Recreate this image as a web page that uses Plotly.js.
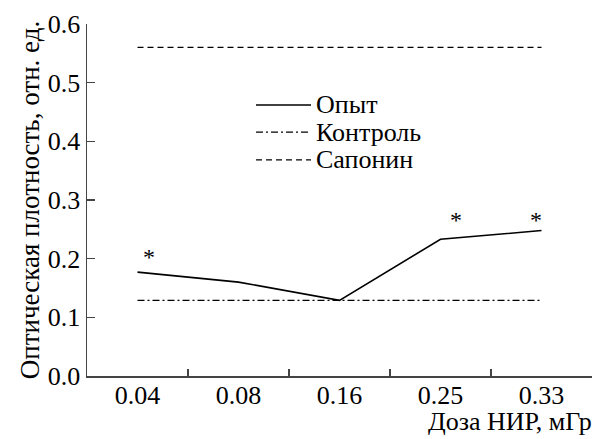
<!DOCTYPE html>
<html>
<head>
<meta charset="utf-8">
<script src="https://cdn.plot.ly/plotly-3.0.1.min.js"></script>
<style>html,body{margin:0;padding:0;background:#fff;}#chart{width:594px;height:439px;}</style>
</head>
<body>
<div id="chart"></div>
<script>
// Data
var doses = ["0.04", "0.08", "0.16", "0.25", "0.33"];
var opyt = [0.177, 0.160, 0.129, 0.233, 0.248];
var kontrol = [0.129, 0.129, 0.129, 0.129, 0.129];
var saponin = [0.560, 0.560, 0.560, 0.560, 0.560];
var seriesNames = ["Опыт", "Контроль", "Сапонин"];
var starDoses = ["0.04", "0.25", "0.33"];
var starValues = [0.206, 0.269, 0.269];

var FONT = "Liberation Serif";
var FS = 26;
var dashes = ["solid", "7px,3px,2px,3px", "6px,4px"];
var widths = [1.6, 1.2, 1.2];
var seriesY = [opyt, kontrol, saponin];

var traces = seriesY.map(function (ys, i) {
  return {
    x: doses, y: ys, name: seriesNames[i], type: "scatter", mode: "lines",
    line: {color: "#000", width: widths[i], dash: dashes[i]},
    showlegend: false, hoverinfo: "skip"
  };
});

var shapes = [];
var annotations = [];
var legY = [0.770, 0.693, 0.614];
seriesNames.forEach(function (n, i) {
  shapes.push({type: "line", xref: "paper", yref: "paper",
    x0: 0.3347, x1: 0.4436, y0: legY[i], y1: legY[i],
    line: {color: "#000", width: widths[i], dash: dashes[i]}});
  annotations.push({xref: "paper", yref: "paper", x: 0.45, y: legY[i],
    xanchor: "left", yanchor: "middle", text: n, showarrow: false,
    font: {family: FONT, size: FS, color: "#000"}});
});
var starShift = [11, 15, -6];
starDoses.forEach(function (d, i) {
  annotations.push({xref: "x", yref: "y", x: doses.indexOf(d), y: starValues[i], text: "*",
    showarrow: false, xshift: starShift[i], yshift: -2,
    font: {family: FONT, size: 24, color: "#000"}});
});
annotations.push({xref: "paper", yref: "paper", x: 1, y: 0, xanchor: "right",
  yanchor: "middle", yshift: -45, xshift: 2, text: "Доза НИР, мГр", showarrow: false,
  font: {family: FONT, size: FS, color: "#000"}});

var layout = {
  width: 594, height: 439,
  margin: {l: 87, r: 2, t: 24, b: 63},
  paper_bgcolor: "#fff", plot_bgcolor: "#fff",
  font: {family: FONT, size: FS, color: "#000"},
  xaxis: {
    type: "category", range: [-0.5, 4.5], tickson: "boundaries",
    ticks: "inside", ticklen: 7, tickwidth: 1.2, tickcolor: "#444",
    showline: true, linecolor: "#444", linewidth: 1.5, showgrid: false, zeroline: false,
    ticklabelstandoff: -5,
    tickfont: {family: FONT, size: FS, color: "#000"}
  },
  yaxis: {
    range: [0, 0.6], dtick: 0.1, tickformat: ".1f",
    ticks: "inside", ticklen: 8, tickwidth: 1.2, tickcolor: "#444",
    showline: true, linecolor: "#444", linewidth: 1.5, showgrid: false, zeroline: false,
    tickfont: {family: FONT, size: FS, color: "#000"},
    title: {text: "Оптическая плотность, отн. ед.", font: {family: FONT, size: 27, color: "#000"}, standoff: 0}
  },
  shapes: shapes,
  annotations: annotations
};

Plotly.newPlot("chart", traces, layout, {staticPlot: true, displayModeBar: false});
</script>
</body>
</html>
